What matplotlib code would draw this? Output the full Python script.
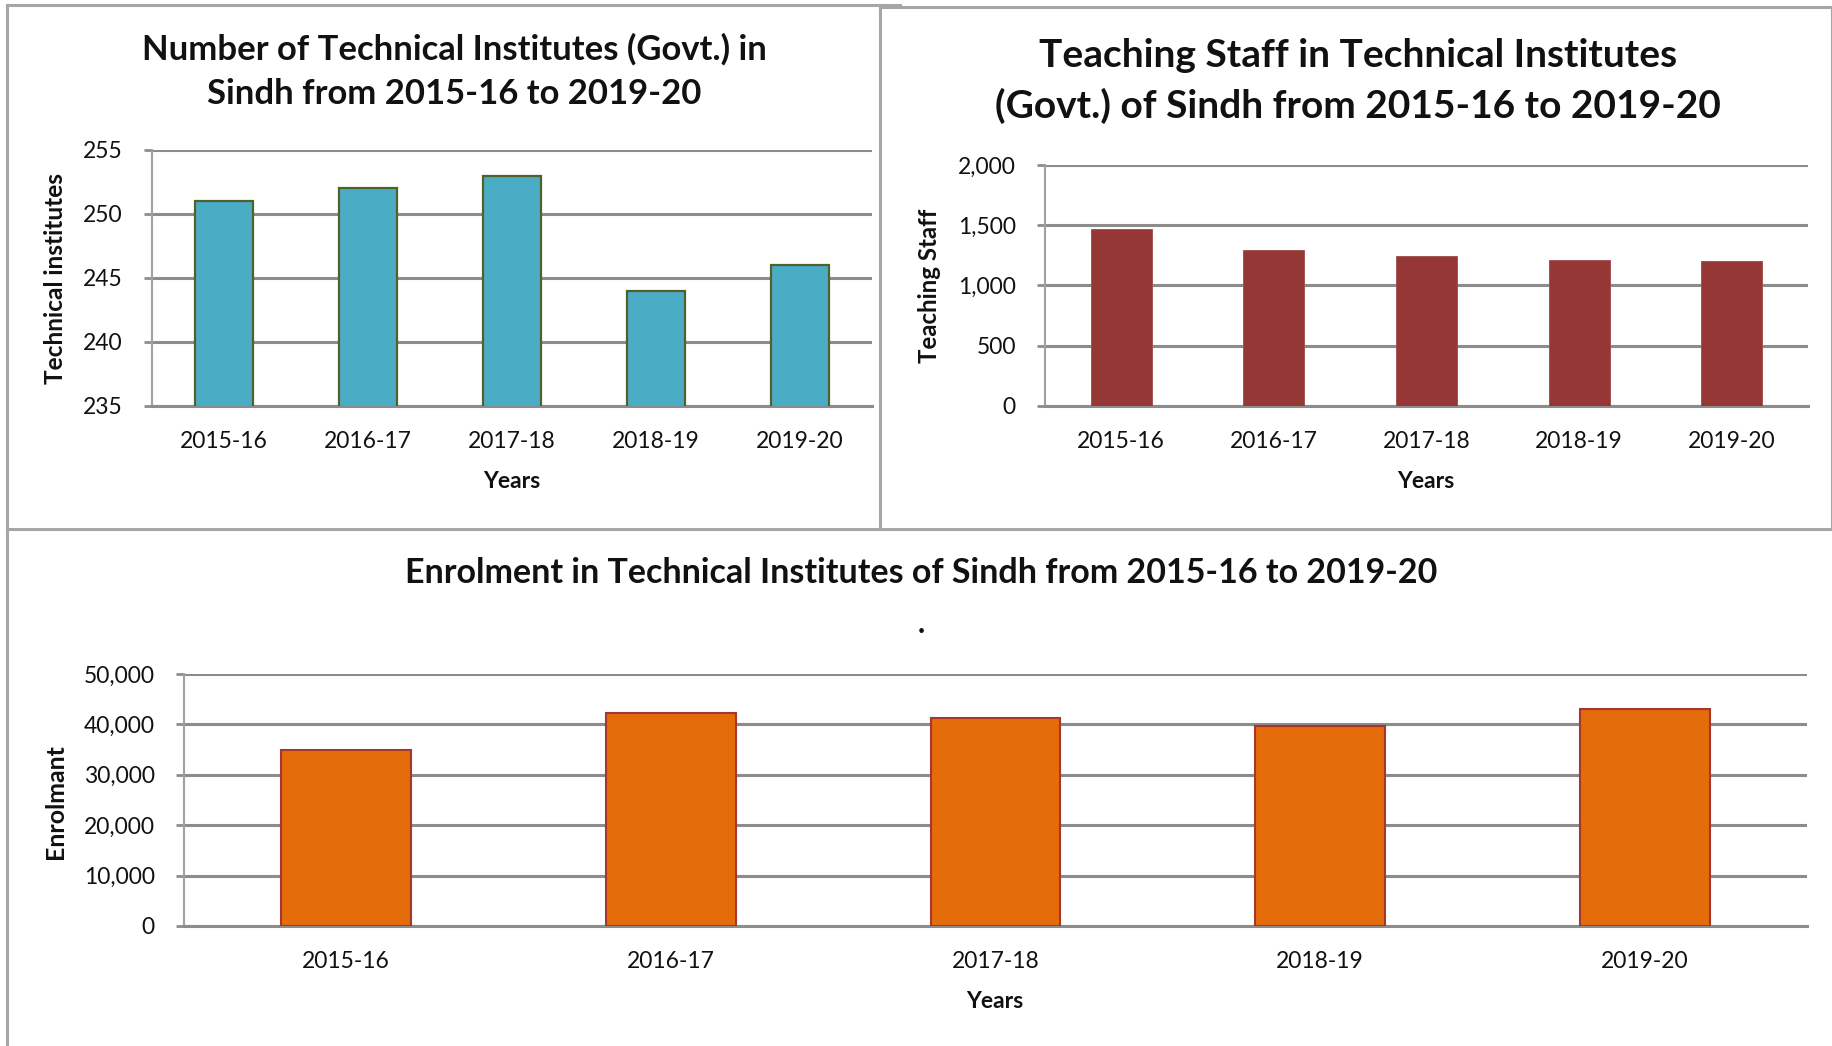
import matplotlib
matplotlib.use('Agg')
import matplotlib.pyplot as plt
from matplotlib.ticker import FuncFormatter
from matplotlib.lines import Line2D

# ---------------- data ----------------
years = ['2015-16', '2016-17', '2017-18', '2018-19', '2019-20']
institutes = [251, 252, 253, 244, 246]
teaching_staff = [1473, 1293, 1245, 1210, 1202]
enrolment = [35000, 42200, 41300, 39750, 43100]

title_tl = 'Number of Technical Institutes (Govt.) in\nSindh from 2015-16 to 2019-20'
title_tr = 'Teaching Staff in Technical Institutes\n(Govt.) of Sindh from 2015-16 to 2019-20'
title_bot = 'Enrolment in Technical Institutes of Sindh from 2015-16 to 2019-20'

# ---------------- figure ----------------
W, H = 1833, 1046
fig = plt.figure(figsize=(W / 100, H / 100), dpi=100)
fig.patch.set_facecolor('white')

FONT = 'Lato'
GRID = '#8c8c8c'
BORDER = '#a6a6a6'


def fx(x):
    return x / W


def fy(y):
    return 1 - y / H


def axes_px(x0, y0, x1, y1):
    return fig.add_axes([x0 / W, 1 - y1 / H, (x1 - x0) / W, (y1 - y0) / H])


def style(ax, ylim, yticks, comma=False):
    ax.set_xlim(-0.5, 4.5)
    ax.set_ylim(*ylim)
    ax.set_yticks(yticks)
    ax.set_axisbelow(True)
    ax.yaxis.grid(True, color=GRID, lw=2.2)
    ax.set_facecolor('none')
    for s in ['top', 'right']:
        ax.spines[s].set_visible(False)
    ax.spines['left'].set_color('#a0a0a0')
    ax.spines['left'].set_linewidth(1.5)
    ax.spines['bottom'].set_color(GRID)
    ax.spines['bottom'].set_linewidth(2.2)
    ax.tick_params(axis='y', length=6, width=2.0, color=GRID, pad=15)
    ax.tick_params(axis='x', length=0, pad=18)
    ax.set_xticks(range(len(years)))
    ax.set_xticklabels(years)
    if comma:
        ax.yaxis.set_major_formatter(FuncFormatter(lambda v, p: f'{v:,.0f}'))
    for lab in ax.get_xticklabels() + ax.get_yticklabels():
        lab.set_fontfamily(FONT)
        lab.set_fontsize(16.5)
        lab.set_color('#111111')


# ---- top-left ----
ax1 = axes_px(152, 150, 872, 406)
ax1.bar(range(len(years)), institutes, width=0.40, bottom=0,
        color='#4bacc6', edgecolor='#4f6228', linewidth=1.6, zorder=3)
style(ax1, (235, 255), [235, 240, 245, 250, 255])

# ---- top-right ----
ax2 = axes_px(1045, 165, 1808, 406)
ax2.bar(range(len(years)), teaching_staff, width=0.40,
        color='#953735', edgecolor='#a04a48', linewidth=0.6, zorder=3)
style(ax2, (0, 2000), [0, 500, 1000, 1500, 2000], comma=True)

# ---- bottom ----
ax3 = axes_px(184, 674, 1807, 926)
ax3.bar(range(len(years)), enrolment, width=0.40,
        color='#e46c0a', edgecolor='#a5372f', linewidth=1.5, zorder=3)
style(ax3, (0, 50000), [0, 10000, 20000, 30000, 40000, 50000], comma=True)

# ---- titles ----
t1 = fig.text(fx(454), fy(71.5), title_tl, ha='center', va='center',
              fontfamily=FONT, fontweight='bold', fontsize=22, linespacing=1.5,
              color='#111111')
t2 = fig.text(fx(1358), fy(81), title_tr, ha='center', va='center',
              fontfamily=FONT, fontweight='bold', fontsize=24.5, linespacing=1.5,
              color='#111111')
t3 = fig.text(fx(921), fy(573), title_bot, ha='center', va='center',
              fontfamily=FONT, fontweight='bold', fontsize=22.5, color='#111111')
fig.text(fx(921), fy(624), '.', ha='center', va='center', fontfamily=FONT,
         fontweight='bold', fontsize=22, color='#111111')

# axis labels
for (x, y), s in [((512, 481), 'Years'), ((1426, 481), 'Years'), ((995, 1002), 'Years')]:
    fig.text(fx(x), fy(y), s, ha='center', va='center', fontfamily=FONT,
             fontweight='bold', fontsize=16.5, color='#111111')

y1 = fig.text(fx(56), fy(278), 'Technical institutes', rotation=90, ha='center', va='center',
              fontfamily=FONT, fontweight='bold', fontsize=16, color='#111111')
y2 = fig.text(fx(930), fy(286), 'Teaching Staff', rotation=90, ha='center', va='center',
              fontfamily=FONT, fontweight='bold', fontsize=16, color='#111111')
y3 = fig.text(fx(56), fy(802), 'Enrolmant', rotation=90, ha='center', va='center',
              fontfamily=FONT, fontweight='bold', fontsize=16, color='#111111')

# fit text sizes to reference extents
fig.canvas.draw()
r = fig.canvas.get_renderer()
for t, target in [(t1, 624), (t2, 725), (t3, 1030)]:
    w = t.get_window_extent(r).width
    t.set_fontsize(t.get_fontsize() * target / w)
for t, target in [(y1, 212), (y2, 155), (y3, 115)]:
    h = t.get_window_extent(r).height
    t.set_fontsize(t.get_fontsize() * target / h)

# ---- panel borders ----
def hline(y, x0, x1, lw=2.2):
    fig.add_artist(Line2D([fx(x0), fx(x1)], [fy(y), fy(y)], color=BORDER, lw=lw))


def vline(x, y0, y1, lw=2.2):
    fig.add_artist(Line2D([fx(x), fx(x)], [fy(y0), fy(y1)], color=BORDER, lw=lw))

hline(5, 7, 900)
hline(7, 880, 1833)
vline(7, 5, 1046)
vline(880, 5, 529)
vline(1832, 7, 529)
hline(529, 7, 1833)

fig.savefig('out.png', dpi=100, facecolor='white')
